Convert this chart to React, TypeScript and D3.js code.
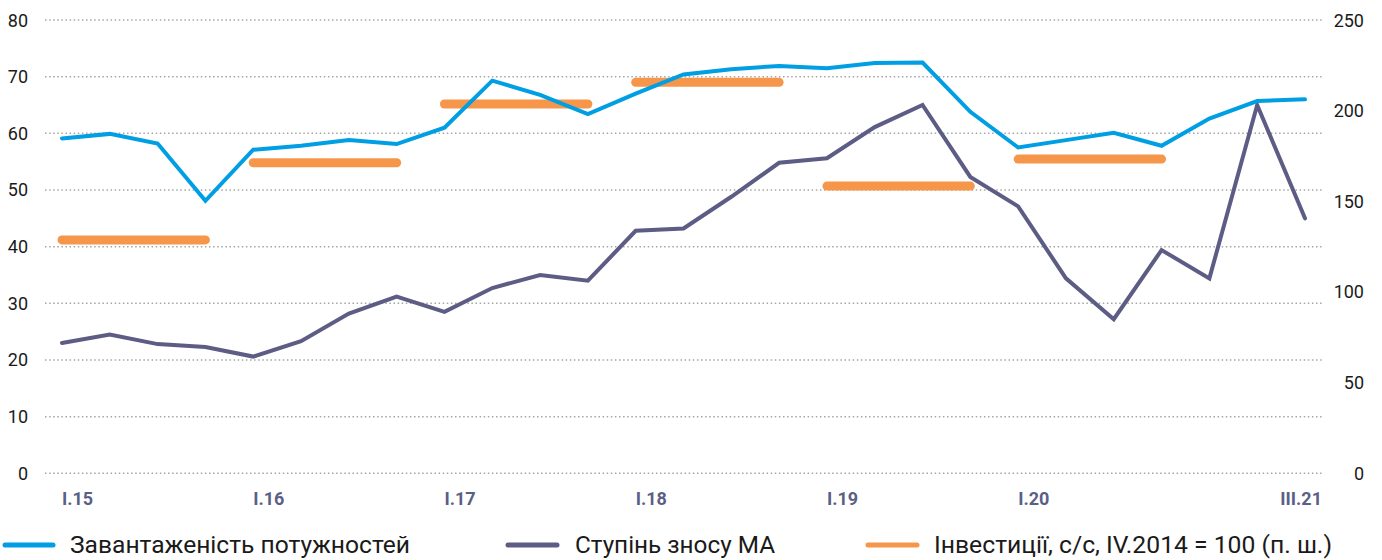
import React from "react";
import * as d3 from "d3";

const quarters = [
  "I.15", "II.15", "III.15", "IV.15",
  "I.16", "II.16", "III.16", "IV.16",
  "I.17", "II.17", "III.17", "IV.17",
  "I.18", "II.18", "III.18", "IV.18",
  "I.19", "II.19", "III.19", "IV.19",
  "I.20", "II.20", "III.20", "IV.20",
  "I.21", "II.21", "III.21",
];

const tickLabels = ["I.15", "I.16", "I.17", "I.18", "I.19", "I.20", "III.21"];

const capacityUtil = [
  59.1, 59.9, 58.2, 48.1, 57.1, 57.8, 58.8, 58.1, 61.0, 69.3, 66.8, 63.4, 67.0, 70.4,
  71.3, 71.9, 71.5, 72.4, 72.5, 63.8, 57.5, 58.8, 60.1, 57.8, 62.6, 65.7, 66.0,
];

const wearDegree = [
  23.0, 24.5, 22.8, 22.3, 20.6, 23.3, 28.2, 31.2, 28.5, 32.7, 35.0, 34.0, 42.8, 43.2,
  48.8, 54.8, 55.6, 61.1, 65.0, 52.3, 47.1, 34.4, 27.2, 39.4, 34.4, 65.0, 45.0,
];

const invYears = ["2015", "2016", "2017", "2018", "2019", "2020"];
const investment = [128.7, 171.3, 203.7, 215.6, 158.4, 173.3];

const leftTicks = [0, 10, 20, 30, 40, 50, 60, 70, 80];
const rightTicks = [0, 50, 100, 150, 200, 250];

const legendItems = [
  "Завантаженість потужностей",
  "Ступінь зносу МА",
  "Інвестиції, с/с, IV.2014 = 100 (п. ш.)",
];

const BLUE = "#009FE3";
const DARK = "#5C5C85";
const ORANGE = "#F5964B";

export default function App() {
  const W = 1382;
  const H = 560;
  const x = d3.scaleLinear().domain([0, quarters.length - 1]).range([62, 1305]);
  const yL = d3.scaleLinear().domain([0, 80]).range([473.3, 20]);
  const yR = d3.scaleLinear().domain([0, 250]).range([473.3, 20]);

  const lineL = d3
    .line<number>()
    .x((_, i) => x(i))
    .y((d) => yL(d));

  const font = "Roboto, 'DejaVu Sans', sans-serif";

  const legendPos = [
    { lx1: 5, lx2: 53, tx: 70, tw: 340, color: BLUE },
    { lx1: 508, lx2: 557, tx: 575, tw: 200, color: DARK },
    { lx1: 868, lx2: 917, tx: 934, tw: 398, color: ORANGE },
  ];

  return (
    <svg
      width={W}
      height={H}
      style={{ position: "absolute", left: 0, top: 0, background: "#fff" }}
    >
      {leftTicks.map((t) => (
        <line
          key={"g" + t}
          x1={45}
          x2={1322}
          y1={yL(t)}
          y2={yL(t)}
          stroke="#A6A6A6"
          strokeWidth={1.5}
          strokeDasharray="1.5 2.6"
        />
      ))}
      {leftTicks.map((t) => (
        <text
          key={"l" + t}
          x={28}
          y={yL(t)}
          textAnchor="end"
          dominantBaseline="central"
          fontFamily={font}
          fontSize={18}
          fill="#1a1a1a"
        >
          {t}
        </text>
      ))}
      {rightTicks.map((t) => (
        <text
          key={"r" + t}
          x={1364}
          y={yR(t)}
          textAnchor="end"
          dominantBaseline="central"
          fontFamily={font}
          fontSize={18}
          fill="#1a1a1a"
        >
          {t}
        </text>
      ))}
      {tickLabels.map((lab) => {
        const i = quarters.indexOf(lab);
        const last = i === quarters.length - 1;
        return (
          <text
            key={"x" + lab}
            x={last ? x(i) + 17 : x(i)}
            y={505}
            textAnchor={last ? "end" : "start"}
            fontFamily={font}
            fontSize={18}
            fontWeight={700}
            fill="#5B5F86"
          >
            {lab}
          </text>
        );
      })}
      {investment.map((v, k) => (
        <line
          key={"inv" + invYears[k]}
          x1={x(k * 4)}
          x2={x(k * 4 + 3)}
          y1={yR(v)}
          y2={yR(v)}
          stroke={ORANGE}
          strokeWidth={9}
          strokeLinecap="round"
        />
      ))}
      <path d={lineL(wearDegree) || ""} fill="none" stroke={DARK} strokeWidth={4} strokeLinecap="round" />
      <path d={lineL(capacityUtil) || ""} fill="none" stroke={BLUE} strokeWidth={4} strokeLinecap="round" />
      {legendItems.map((name, k) => {
        const p = legendPos[k];
        return (
          <g key={"lg" + k}>
            <line
              x1={p.lx1}
              x2={p.lx2}
              y1={545}
              y2={545}
              stroke={p.color}
              strokeWidth={5}
              strokeLinecap="round"
            />
            <text
              x={p.tx}
              y={553}
              fontFamily={font}
              fontSize={24}
              fill="#1a1a1a"
              textLength={p.tw}
              lengthAdjust="spacingAndGlyphs"
            >
              {name}
            </text>
          </g>
        );
      })}
    </svg>
  );
}
